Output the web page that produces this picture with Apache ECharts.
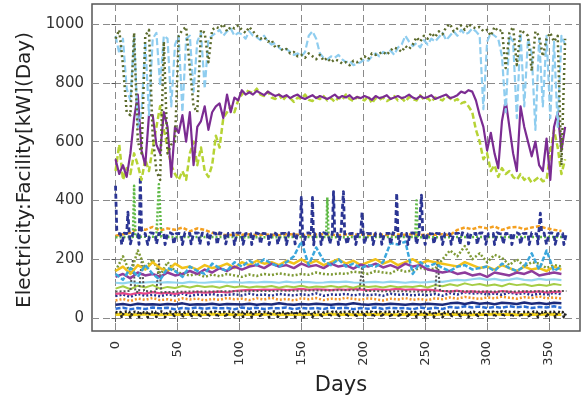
<!DOCTYPE html>
<html><head><meta charset="utf-8">
<script src="https://cdn.jsdelivr.net/npm/echarts@6/dist/echarts.min.js"></script>
<style>html,body{margin:0;padding:0;background:#fff}#c{width:581px;height:402px}</style>
</head><body><div id="c"></div>
<script>
const xTicks=[0,50,100,150,200,250,300,350];
const yTicks=[0,200,400,600,800,1000];
const days3=[0,3,6,9,12,15,18,21,24,27,30,33,36,39,42,45,48,51,54,57,60,63,66,69,72,75,78,81,84,87,90,93,96,99,102,105,108,111,114,117,120,123,126,129,132,135,138,141,144,147,150,153,156,159,162,165,168,171,174,177,180,183,186,189,192,195,198,201,204,207,210,213,216,219,222,225,228,231,234,237,240,243,246,249,252,255,258,261,264,267,270,273,276,279,282,285,288,291,294,297,300,303,306,309,312,315,318,321,324,327,330,333,336,339,342,345,348,351,354,357,360,363];
const days6=[0,6,12,18,24,30,36,42,48,54,60,66,72,78,84,90,96,102,108,114,120,126,132,138,144,150,156,162,168,174,180,186,192,198,204,210,216,222,228,234,240,246,252,258,264,270,276,282,288,294,300,306,312,318,324,330,336,342,348,354,360];
// high group (step 3 days)
const lightBlue=[960,900,950,780,740,960,650,700,940,690,950,970,790,960,950,720,930,960,700,950,960,770,940,970,780,950,960,
970,980,960,975,985,960,970,965,950,975,960,955,945,960,
940,930,935,920,910,915,905,895,900,890,905,960,975,950,900,885,880,890,885,895,880,870,875,860,865,870,880,875,890,900,890,905,900,910,895,920,930,960,940,925,
935,920,945,930,950,940,955,970,945,960,975,960,980,965,970,985,
975,960,710,940,970,960,950,890,700,960,940,680,970,720,950,900,640,950,720,960,680,940,650,960,930];
const olive=[950,980,860,700,690,970,600,560,960,980,620,500,470,940,560,590,600,960,980,990,850,720,700,980,970,870,980,
990,985,1000,975,990,985,995,980,970,990,975,960,950,955,
940,945,920,925,910,915,900,905,890,895,885,900,890,880,895,875,885,870,880,875,865,870,860,875,870,880,890,880,900,895,900,905,895,910,920,915,905,925,915,930,
955,940,960,950,970,955,975,965,990,1000,975,985,995,980,1000,990,
985,990,975,980,960,990,975,980,850,970,990,860,980,970,960,840,975,960,890,950,970,940,960,520,950];
const purple=[540,490,520,480,560,680,760,570,520,690,690,590,560,700,650,480,650,630,690,600,700,520,650,670,720,640,700,720,730,680,760,700,750,740,775,760,
768,760,772,765,758,770,762,755,760,752,758,748,755,760,750,745,752,758,748,755,750,745,752,760,748,755,750,758,745,752,748,755,750,742,755,748,752,758,745,750,755,748,752,760,750,745,755,748,752,758,745,750,755,760,748,752,758,770,765,775,
770,740,690,650,570,630,560,510,670,740,650,560,500,720,650,600,550,600,520,500,610,470,650,700,570,650];
const yellowGreen=[500,590,470,510,490,560,520,470,540,500,580,650,720,640,580,520,490,470,500,470,560,600,520,580,500,480,520,620,580,680,700,720,700,740,760,775,
770,765,780,760,755,770,750,745,760,740,755,748,735,750,745,760,742,738,750,745,755,740,748,735,750,742,760,745,738,752,745,740,755,730,748,742,750,738,745,755,740,748,735,752,745,740,758,742,748,735,750,745,740,755,748,738,745,730,735,
720,700,640,600,540,560,500,520,480,510,490,500,480,470,490,470,480,460,470,480,465,470,560,640,580,490,540];
// navy weekly series (daily, index = day)
const navyDaily=[450,300,288,290,286,250,248,
289,288,287,360,290,252,249,
288,290,287,289,286,251,480,
300,288,290,287,289,250,248,
290,287,289,288,286,252,249,
288,290,286,289,287,250,248,
289,287,290,288,286,251,249,
287,289,288,290,286,250,248,
290,288,287,289,288,252,249,
288,287,290,286,289,250,248,
289,290,288,287,286,251,249,
287,288,290,289,288,250,248,
290,287,288,289,286,252,249,
288,290,287,288,289,250,248,
289,288,290,287,286,251,249,
287,289,288,290,288,250,248,
290,287,289,288,286,252,249,
288,290,287,289,288,250,248,
289,288,290,287,286,251,249,
287,289,288,290,288,250,248,
290,288,287,289,286,252,249,
288,290,287,410,289,250,248,
289,288,290,287,286,410,249,
287,289,288,290,288,250,248,
290,288,287,289,286,252,249,
288,430,287,289,288,250,248,
289,288,430,287,286,251,249,
287,289,288,290,288,250,248,
290,288,287,360,286,252,249,
288,290,287,289,288,250,248,
289,288,290,287,286,251,249,
287,289,288,290,288,250,248,
290,288,287,425,286,252,249,
288,290,287,289,288,250,248,
289,288,290,287,286,251,249,
287,289,418,290,288,250,248,
290,288,287,289,286,252,249,
288,290,287,289,288,250,248,
289,288,290,287,286,251,249,
287,289,288,290,288,250,248,
290,288,287,289,286,252,249,
288,290,287,289,288,250,248,
289,288,290,287,286,251,249,
287,289,288,290,288,250,248,
290,288,287,289,286,252,249,
288,290,287,289,288,250,248,
289,288,290,287,286,251,249,
287,289,288,290,288,250,248,
290,288,287,289,286,252,249,
357,290,287,289,288,250,248,
289,288,290,287,286,251,249,
287,289,288,290,288,250,248,
288];
const bottomDaily=[20,21,19,22,20,4,3,
21,20,22,19,21,3,4,
20,22,21,20,19,4,3,
22,20,19,21,20,3,4,
21,19,20,22,21,4,3,
20,21,22,19,20,3,4,
19,20,21,22,20,4,3,
21,22,20,19,21,3,4,
20,19,21,20,22,4,3,
22,21,20,21,19,3,4,
21,20,19,22,20,4,3,
20,22,21,19,21,3,4,
19,21,20,22,20,4,3,
21,20,22,20,19,3,4,
20,19,21,22,21,4,3,
22,21,20,19,20,3,4,
21,20,19,21,22,4,3,
20,22,21,20,19,3,4,
19,20,22,21,20,4,3,
21,19,20,22,21,3,4,
20,21,19,20,22,4,3,
22,20,21,19,20,3,4,
21,22,20,21,19,4,3,
20,19,21,22,20,3,4,
19,21,22,20,21,4,3,
21,20,19,21,22,3,4,
20,22,20,19,21,4,3,
22,21,19,20,20,3,4,
21,19,20,22,21,4,3,
20,21,22,19,20,3,4,
19,20,21,22,20,4,3,
21,22,20,19,21,3,4,
20,19,21,20,22,4,3,
22,21,20,21,19,3,4,
21,20,19,22,20,4,3,
20,22,21,19,21,3,4,
19,21,20,22,20,4,3,
21,20,22,20,19,3,4,
20,19,21,22,21,4,3,
22,21,20,19,20,3,4,
21,20,19,21,22,4,3,
20,22,21,20,19,3,4,
19,20,22,21,20,4,3,
21,19,20,22,21,3,4,
20,21,19,20,22,4,3,
22,20,21,19,20,3,4,
21,22,20,21,19,4,3,
20,19,21,22,20,3,4,
19,21,22,20,21,4,3,
21,20,19,21,22,3,4,
20,22,20,19,21,4,3,
22,21,19,20,20,3,4,
21];
// green dotted (sparse points)
const greenDays=[0,14,15,16,33,35,37,120,170,171,172,242,243,244,364];
const greenVals=[275,276,450,277,276,455,276,275,276,410,275,276,400,275,276];
// gray dotted (sparse points)
const grayDays=[0,12,14,16,19,21,23,33,35,37,60,120,197,199,201,258,260,262,300,364];
const grayVals=[90,92,200,90,88,190,92,90,195,88,90,92,95,175,92,90,200,92,90,92];
// lower group (step 6 days)
const orangeTop=[280,285,290,305,300,310,298,305,300,308,295,305,300,290,285,282,284,283,285,282,284,283,282,285,284,283,282,284,285,283,282,284,283,285,282,284,283,282,284,283,285,282,284,283,285,282,300,308,302,310,305,312,300,308,310,302,308,312,305,300,296];
const skyBlue=[150,130,170,140,180,150,130,170,160,140,175,160,150,185,170,160,190,175,195,180,200,185,175,190,210,260,180,240,195,180,200,175,185,170,180,175,190,255,250,260,150,190,175,185,170,160,175,180,165,170,175,160,185,170,160,175,220,165,230,160,175];
const magenta=[140,150,135,155,145,150,140,155,145,150,160,150,165,155,170,160,175,165,175,180,170,185,175,180,170,185,175,180,170,185,175,180,168,182,175,185,172,180,170,185,175,180,165,160,155,160,150,155,145,150,140,155,150,145,155,150,160,145,150,155,150];
const yellow=[160,175,150,180,165,190,170,160,185,170,175,165,180,170,175,185,170,190,180,195,185,190,180,195,185,200,185,195,180,190,200,185,195,180,190,200,185,195,180,190,200,185,195,190,185,180,175,190,180,170,175,165,180,170,160,175,165,170,160,175,165];
const oliveLow=[160,210,150,230,170,200,145,190,160,150,145,150,140,148,142,150,145,140,148,143,150,146,152,148,145,150,147,155,150,148,152,150,158,155,150,160,155,152,165,158,162,170,165,168,200,230,210,245,200,220,190,215,205,180,200,175,190,185,170,180,175];
const cyan=[120,118,122,119,121,123,120,122,121,119,123,121,120,122,124,121,123,120,122,121,123,122,120,124,121,123,122,120,121,123,122,124,121,120,122,123,121,124,122,120,123,121,122,125,123,127,130,128,132,135,130,133,128,131,135,130,128,133,130,132,129];
const lightGreen=[100,108,98,110,104,112,100,106,102,109,104,110,106,108,103,110,105,108,104,107,106,109,103,108,105,110,104,107,106,109,105,108,103,110,106,108,104,109,105,107,106,110,104,112,108,115,110,118,112,116,110,114,108,117,112,115,109,113,110,116,112];
const pink=[82,85,80,86,83,88,84,86,82,87,85,89,86,88,90,87,92,94,96,95,97,96,98,95,97,99,96,98,97,95,98,96,99,97,95,98,96,97,99,96,98,95,97,94,92,90,93,89,91,88,90,87,92,89,86,90,88,91,87,89,90];
const navyDot=[75,80,72,82,76,79,74,81,77,83,75,80,78,82,76,79,81,77,83,78,80,76,82,79,77,81,78,84,76,80,79,82,77,81,78,80,76,83,79,81,77,80,78,82,76,85,80,88,83,86,80,84,79,87,82,85,78,83,80,86,81];
const orangeDot=[60,65,58,66,62,68,61,64,59,67,63,66,60,65,62,68,64,66,61,67,63,69,62,65,60,67,64,68,61,66,63,69,65,62,67,64,60,66,63,68,62,65,61,67,64,70,66,72,68,65,70,67,73,69,66,71,68,74,67,70,66];
const darkBlue=[45,48,44,49,46,47,45,48,46,50,45,47,46,49,45,48,47,46,49,45,48,46,50,47,45,48,46,49,47,45,48,46,50,47,45,48,46,49,47,45,48,46,49,47,45,50,52,48,53,49,51,47,52,50,48,53,49,51,48,52,50];
const blue=[32,35,30,34,31,36,33,35,30,34,32,36,31,35,33,34,30,36,32,35,31,34,33,36,30,35,32,34,31,36,33,35,30,34,32,36,31,35,33,34,30,36,32,35,31,38,35,40,36,39,34,38,35,40,37,39,34,38,36,40,35];
const yellowLow=[12,13,11,12,14,12,11,13,12,12,13,11,12,14,12,13,11,12,13,12,12,14,11,13,12,12,13,11,12,14,12,13,11,12,13,12,14,12,11,13,12,12,13,11,14,12,13,12,11,13,12,14,12,13,11,12,13,12,14,12,12];

const pair=(xs,ys)=>ys.map((v,i)=>[xs[i],v]);
const idx=(ys)=>ys.map((v,i)=>[i,v]);
function ln(data,color,width,type){
  return {type:'line',data,showSymbol:false,symbol:'none',silent:true,
    lineStyle:{color,width,type,cap:'butt',join:'round'}};
}
const series=[
  ln(pair(days6,yellowLow),'#f2d31b',3,'solid'),
  ln(idx(bottomDaily),'#222',2.8,[2,2]),
  ln(pair(days6,blue),'#2d6fd6',2.5,[5,2]),
  ln(pair(days6,darkBlue),'#1c2a7a',2.5,'solid'),
  ln(pair(days6,orangeDot),'#f39324',2.5,[2,2]),
  ln(pair(days6,navyDot),'#27328f',2.5,[2,2]),
  ln(pair(days6,pink),'#e8468a',2.2,'solid'),
  ln(pair(days6,lightGreen),'#a5cd45',2,'solid'),
  ln(pair(days6,cyan),'#93d6ef',2.2,'solid'),
  ln(pair(grayDays,grayVals),'#555',2,[2,2]),
  ln(pair(days6,oliveLow),'#7f9a35',2.5,[2,2]),
  ln(pair(days6,yellow),'#f2c21a',2.5,'solid'),
  ln(pair(days6,magenta),'#8e3c9c',2.5,'solid'),
  ln(pair(days6,skyBlue),'#3ba7dd',2.5,[5,2]),
  ln(pair(days6,orangeTop),'#f4a020',2.5,[4,2]),
  ln(pair(greenDays,greenVals),'#5fb946',2.5,[2,2]),
  ln(idx(navyDaily),'#2b3593',2.8,[5,3]),
  ln(pair(days3,yellowGreen),'#b6d335',2.5,[6,3]),
  ln(pair(days3,purple),'#7b2c92',2.2,'solid'),
  ln(pair(days3,lightBlue),'#8fcdef',2.2,[7,3]),
  ln(pair(days3,olive),'#5b6a2b',2.5,[2,3])
];
const chart=echarts.init(document.getElementById('c'),null,{renderer:'canvas'});
const txt={color:'#333',fontFamily:'DejaVu Sans'};
chart.setOption({
  animation:false,
  grid:{left:92,top:4,right:1,bottom:71,show:true,borderColor:'#555',borderWidth:1.5,backgroundColor:'#fff'},
  xAxis:{type:'value',min:-19,max:375,
    axisLine:{show:false},
    axisTick:{show:true,length:4,lineStyle:{color:'#555'},customValues:xTicks},
    axisLabel:{...txt,fontSize:13,rotate:90,margin:10,customValues:xTicks,formatter:v=>String(v)},
    splitLine:{show:true,lineStyle:{color:'#8a8a8a',type:[7,4],width:1}}},
  yAxis:{type:'value',min:-44,max:1068,
    axisLine:{show:false},
    axisTick:{show:true,length:4,lineStyle:{color:'#555'},customValues:yTicks},
    axisLabel:{...txt,fontSize:15,margin:8,customValues:yTicks,formatter:v=>String(v)},
    splitLine:{show:true,lineStyle:{color:'#8a8a8a',type:[7,4],width:1}}},
  graphic:[
    {type:'text',x:341,y:386,style:{text:'Days',fill:'#222',fontFamily:'DejaVu Sans',fontSize:21,align:'center',verticalAlign:'middle'}},
    {type:'text',x:25,y:170,rotation:Math.PI/2,style:{text:'Electricity:Facility[kW](Day)',fill:'#222',fontFamily:'DejaVu Sans',fontSize:20,align:'center',verticalAlign:'middle'}}
  ],
  series
});
</script></body></html>
